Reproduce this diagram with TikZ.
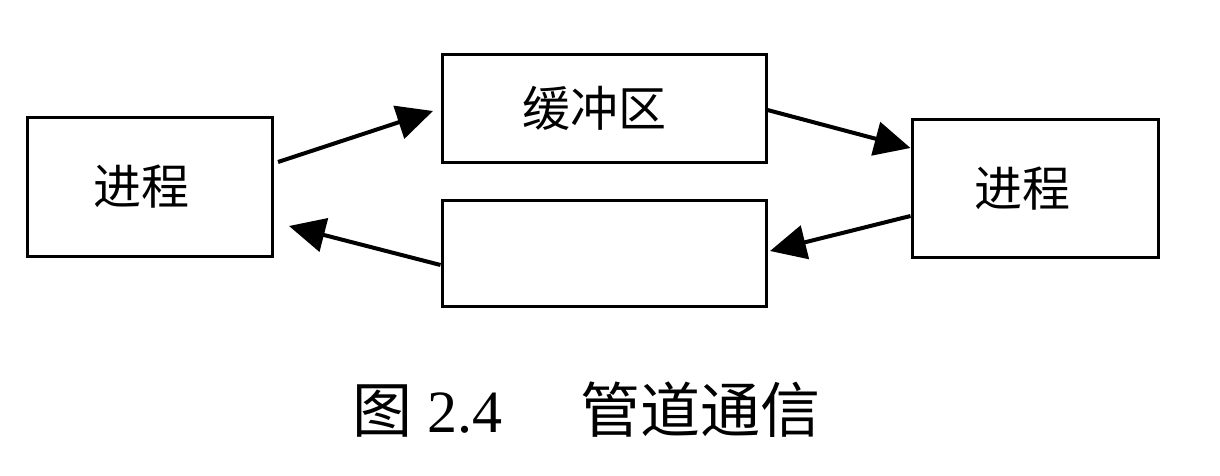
\documentclass[tikz,border=0pt]{standalone}
\usepackage{fontspec}
\setmainfont{Liberation Serif}
\newfontfamily\cjk{Noto Sans CJK SC}
\usetikzlibrary{arrows.meta}
\tikzset{
  box/.style={draw, line width=1.5pt, inner sep=0pt, font=\cjk\fontsize{24}{24}\selectfont},
  conn/.style={line width=2pt, -{Triangle[length=18pt,width=17pt]}}
}
\begin{document}
\begin{tikzpicture}[x=0.5pt,y=-0.5pt]
\useasboundingbox (0,0) rectangle (1220,476);
\node[box, minimum width=122.5pt, minimum height=69pt] (lp) at (149.5,187) {\hspace*{-8pt}进程};
\node[box, minimum width=162pt, minimum height=53.5pt] (buf) at (604,108.5) {\hspace*{-10pt}缓冲区};
\node[box, minimum width=162pt, minimum height=53pt] (buf2) at (604,253) {};
\node[box, minimum width=123pt, minimum height=68.5pt] (rp) at (1035,188.5) {\hspace*{-13pt}进程};
\coordinate (a1s) at (278,162);
\coordinate (a1e) at (433,111);
\coordinate (a2s) at (buf.east |- 0,110);
\coordinate (a2e) at (rp.west |- 0,148);
\coordinate (a3s) at (rp.west |- 0,216);
\coordinate (a3e) at (770,251);
\coordinate (a4s) at (buf2.west |- 0,265);
\coordinate (a4e) at (289,226);
\draw[conn] (a1s) -- (a1e);
\draw[conn] (a2s) -- (a2e);
\draw[conn] (a3s) -- (a3e);
\draw[conn] (a4s) -- (a4e);
\node[inner sep=0pt, anchor=west] (cap) at (352,410) {\cjk\fontsize{30}{30}\selectfont 图\hspace{0.25em}{\rmfamily\fontsize{30}{30}\selectfont 2.4}\hspace{1.3em}管道通信};
\end{tikzpicture}
\end{document}
